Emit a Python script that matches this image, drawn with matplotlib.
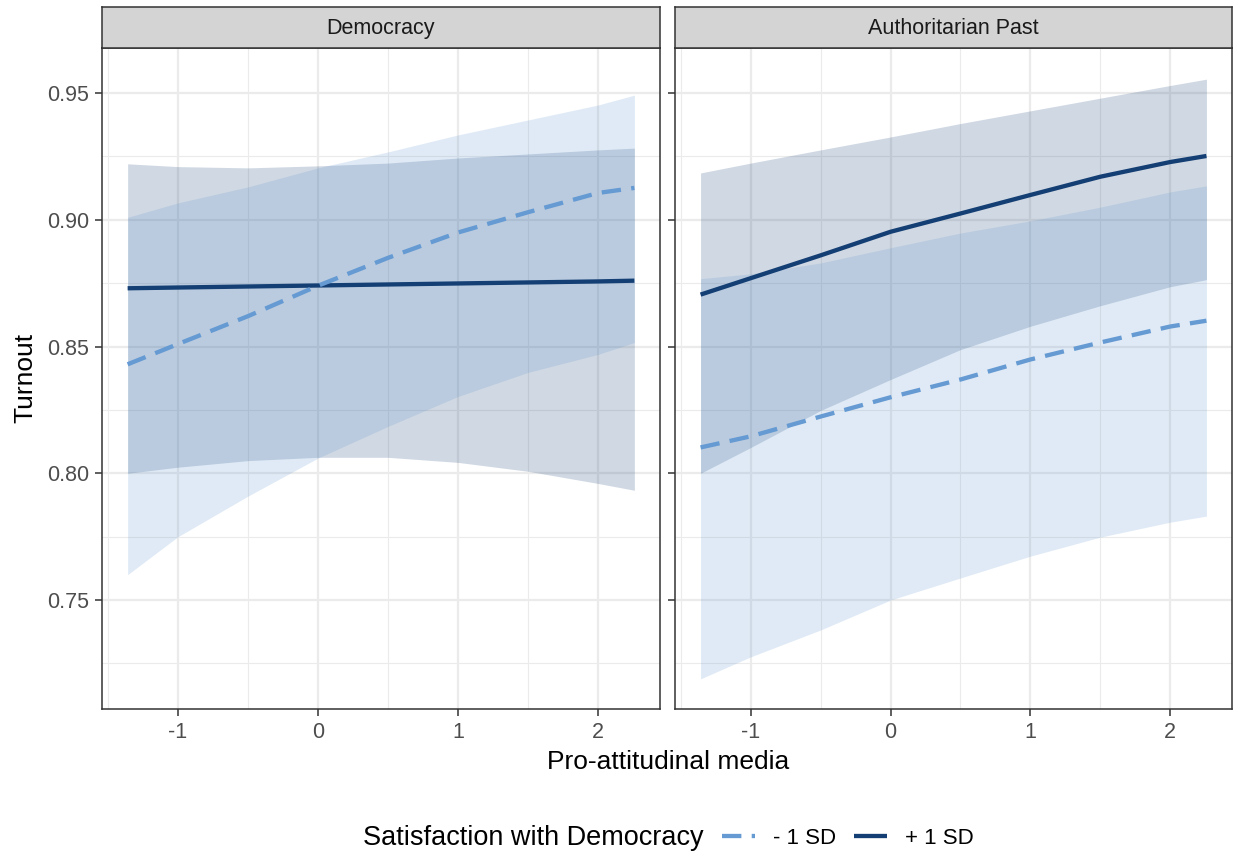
import matplotlib.pyplot as plt
from matplotlib.lines import Line2D
from matplotlib.ticker import MultipleLocator

plt.rcParams['font.family'] = ['Liberation Sans', 'DejaVu Sans']

# values
x = [-1.36, -1.0, -0.5, 0.0, 0.5, 1.0, 1.5, 2.0, 2.26]

panels = ['Democracy', 'Authoritarian Past']

# Democracy, - 1 SD
dem_low_fit = [0.843, 0.851, 0.862, 0.874, 0.885, 0.895, 0.903, 0.9106, 0.9126]
dem_low_lo = [0.760, 0.775, 0.791, 0.806, 0.8185, 0.8303, 0.8398, 0.8469, 0.8516]
dem_low_hi = [0.901, 0.9067, 0.913, 0.9205, 0.9268, 0.9335, 0.9394, 0.9453, 0.9492]
# Democracy, + 1 SD
dem_high_fit = [0.873, 0.8733, 0.8737, 0.8741, 0.8745, 0.8749, 0.8753, 0.8757, 0.876]
dem_high_lo = [0.800, 0.8024, 0.805, 0.8063, 0.8063, 0.8043, 0.8008, 0.796, 0.7933]
dem_high_hi = [0.9221, 0.921, 0.9205, 0.9213, 0.9224, 0.9244, 0.926, 0.9276, 0.9283]

# Authoritarian Past, - 1 SD
aut_low_fit = [0.8102, 0.8146, 0.8224, 0.830, 0.837, 0.8449, 0.8516, 0.8579, 0.8602]
aut_low_lo = [0.7189, 0.7276, 0.7382, 0.750, 0.7587, 0.7673, 0.7748, 0.7807, 0.7831]
aut_low_hi = [0.8768, 0.8787, 0.883, 0.889, 0.8948, 0.8996, 0.905, 0.911, 0.9134]
# Authoritarian Past, + 1 SD
aut_high_fit = [0.8705, 0.877, 0.886, 0.8953, 0.9025, 0.9098, 0.917, 0.9228, 0.9252]
aut_high_lo = [0.800, 0.8102, 0.8248, 0.837, 0.8488, 0.858, 0.8661, 0.8736, 0.8764]
aut_high_hi = [0.9185, 0.9224, 0.9276, 0.9327, 0.938, 0.943, 0.948, 0.953, 0.9555]

xticks = [-1, 0, 1, 2]
yticks = [0.75, 0.80, 0.85, 0.90, 0.95]
ytick_labels = ['0.75', '0.80', '0.85', '0.90', '0.95']
legend_title = 'Satisfaction with Democracy'
legend_labels = ['- 1 SD', '+ 1 SD']

col_low = '#659ad2'
col_high = '#143f74'

data = [
    (dem_low_fit, dem_low_lo, dem_low_hi, dem_high_fit, dem_high_lo, dem_high_hi),
    (aut_low_fit, aut_low_lo, aut_low_hi, aut_high_fit, aut_high_lo, aut_high_hi),
]

W, H = 1238, 857
fig = plt.figure(figsize=(W / 100, H / 100), dpi=100, facecolor='w')

panel_x = [(102, 660), (675, 1232)]
top, bottom, strip_top = 48, 709, 7

for i, (x0, x1) in enumerate(panel_x):
    ax = fig.add_axes([x0 / W, 1 - bottom / H, (x1 - x0) / W, (bottom - top) / H])
    lowfit, lowlo, lowhi, highfit, highlo, highhi = data[i]

    ax.fill_between(x, highlo, highhi, color=col_high, alpha=0.2, linewidth=0, zorder=2)
    ax.fill_between(x, lowlo, lowhi, color=col_low, alpha=0.2, linewidth=0, zorder=2)
    ax.plot(x, highfit, color=col_high, lw=3.1, solid_capstyle='butt', zorder=3)
    ax.plot(x, lowfit, color=col_low, lw=3.1, dashes=(4.5, 2.4), dash_capstyle='butt', zorder=3)

    ax.set_xlim(-1.543, 2.443)
    ax.set_ylim(0.707, 0.9678)
    ax.set_xticks(xticks)
    ax.set_xticklabels([str(t) for t in xticks])
    ax.xaxis.set_minor_locator(MultipleLocator(0.5))
    ax.yaxis.set_minor_locator(MultipleLocator(0.025))
    ax.set_yticks(yticks)
    if i == 0:
        ax.set_yticklabels(ytick_labels)
    else:
        ax.set_yticklabels([])
    ax.grid(True, which='major', color='#ebebeb', lw=1.6, zorder=0)
    ax.grid(True, which='minor', color='#ebebeb', lw=0.8, zorder=0)
    ax.set_axisbelow(True)
    ax.tick_params(which='major', length=5, width=1.1, color='#333333',
                   labelsize=15.5, labelcolor='#4d4d4d', pad=4)
    ax.tick_params(which='minor', length=0)
    for s in ax.spines.values():
        s.set_color('#333333')
        s.set_linewidth(1.1)

    # facet strip
    sx = fig.add_axes([x0 / W, 1 - top / H, (x1 - x0) / W, (top - strip_top) / H])
    sx.set_facecolor('#d4d4d4')
    sx.set_xticks([])
    sx.set_yticks([])
    for s in sx.spines.values():
        s.set_color('#333333')
        s.set_linewidth(1.1)
    sx.text(0.5, 0.48, panels[i], ha='center', va='center', fontsize=15.5,
            color='#1a1a1a', transform=sx.transAxes)

fig.text(668 / W, 1 - 762 / H, 'Pro-attitudinal media', ha='center', va='center',
         fontsize=19, color='black')
fig.text(25 / W, 1 - 378 / H, 'Turnout', ha='center', va='center', rotation=90,
         fontsize=19, color='black')

# legend at the bottom, title on the left
fig.text(704 / W, 1 - 838 / H, legend_title, ha='right', va='center',
         fontsize=19.5, color='black')
handles = [
    Line2D([], [], color=col_low, lw=3.1, dashes=(4.5, 2.4), dash_capstyle='butt'),
    Line2D([], [], color=col_high, lw=3.1, solid_capstyle='butt'),
]
fig.legend(handles, legend_labels, loc='center left', bbox_to_anchor=(722 / W, 1 - 838 / H),
           ncol=2, frameon=False, fontsize=16, handlelength=1.5, handletextpad=0.8,
           columnspacing=0.8, borderpad=0, borderaxespad=0)

fig.savefig('out.png', dpi=100, facecolor='w')
